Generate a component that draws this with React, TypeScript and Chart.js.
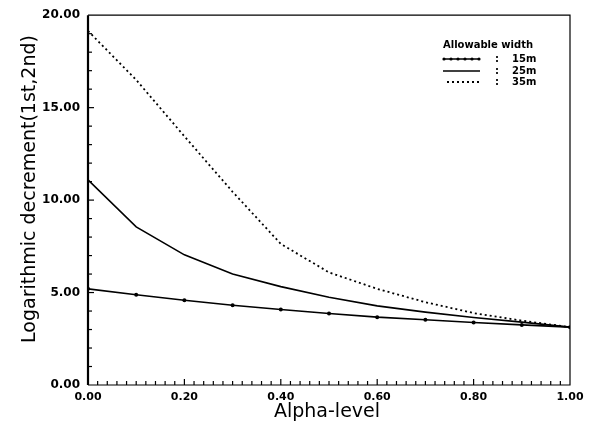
import React, { useEffect, useRef } from "react";
import { Chart, registerables } from "chart.js";

Chart.register(...registerables);

const alphaLevels = [0, 0.1, 0.2, 0.3, 0.4, 0.5, 0.6, 0.7, 0.8, 0.9, 1.0];
const width15 = [5.2, 4.88, 4.58, 4.31, 4.08, 3.87, 3.67, 3.53, 3.38, 3.25, 3.13];
const width25 = [11.1, 8.55, 7.04, 6.0, 5.32, 4.75, 4.28, 3.94, 3.65, 3.4, 3.13];
const width35 = [19.15, 16.5, 13.45, 10.45, 7.63, 6.09, 5.2, 4.48, 3.89, 3.48, 3.13];
const seriesLabels = ["15m", "25m", "35m"];
const legendTitle = "Allowable width";
const xTitle = "Alpha-level";
const yTitle = "Logarithmic decrement(1st,2nd)";
const xMin = 0;
const xMax = 1;
const xMajorStep = 0.2;
const xMinorStep = 0.02;
const yMin = 0;
const yMax = 20;
const yMajorStep = 5;
const yMinorStep = 1;

const toPoints = (ys: number[]) => alphaLevels.map((x, i) => ({ x, y: ys[i] }));

const decorPlugin = {
  id: "decor",
  afterDraw(chart: any) {
    const ctx = chart.ctx as CanvasRenderingContext2D;
    const area = chart.chartArea;
    const xs = chart.scales.x;
    const ys = chart.scales.y;
    ctx.save();
    ctx.strokeStyle = "#000";
    // frame
    ctx.lineWidth = 1.2;
    ctx.beginPath();
    ctx.moveTo(area.left, area.top);
    ctx.lineTo(area.right, area.top);
    ctx.lineTo(area.right, area.bottom);
    ctx.lineTo(area.left, area.bottom);
    ctx.stroke();
    ctx.lineWidth = 2.2;
    ctx.beginPath();
    ctx.moveTo(area.left, area.top);
    ctx.lineTo(area.left, area.bottom);
    ctx.stroke();
    // x minor/major ticks (inside, pointing up)
    ctx.lineWidth = 1.2;
    const nx = Math.round((xMax - xMin) / xMinorStep);
    for (let i = 1; i < nx; i++) {
      const v = xMin + i * xMinorStep;
      const px = xs.getPixelForValue(v);
      const major = i % Math.round(xMajorStep / xMinorStep) === 0;
      ctx.beginPath();
      ctx.moveTo(px, area.bottom);
      ctx.lineTo(px, area.bottom - (major ? 6 : 4));
      ctx.stroke();
    }
    // y ticks (inside, pointing right)
    const ny = Math.round((yMax - yMin) / yMinorStep);
    for (let i = 1; i < ny; i++) {
      const v = yMin + i * yMinorStep;
      const py = ys.getPixelForValue(v);
      const major = i % Math.round(yMajorStep / yMinorStep) === 0;
      ctx.beginPath();
      ctx.moveTo(area.left, py);
      ctx.lineTo(area.left + (major ? 6 : 4), py);
      ctx.stroke();
    }
    // axis titles
    ctx.fillStyle = "#000";
    ctx.font = "19px 'DejaVu Sans'";
    ctx.textAlign = "center";
    ctx.textBaseline = "middle";
    ctx.fillText(xTitle, (area.left + area.right) / 2 - 2, 412);
    ctx.save();
    ctx.translate(30, 189);
    ctx.rotate(-Math.PI / 2);
    ctx.fillText(yTitle, 0, 0);
    ctx.restore();
    // legend
    ctx.font = "bold 10px 'DejaVu Sans'";
    ctx.textAlign = "left";
    ctx.fillText(legendTitle, 443, 45);
    const rowY = [59, 71, 82];
    chart.data.datasets.forEach((ds: any, i: number) => {
      const y = rowY[i];
      ctx.save();
      ctx.strokeStyle = "#000";
      ctx.lineWidth = ds.borderWidth;
      ctx.setLineDash(ds.borderDash || []);
      ctx.beginPath();
      ctx.moveTo(i === 2 ? 447 : 443, y);
      ctx.lineTo(480, y);
      ctx.stroke();
      ctx.restore();
      if (ds.pointRadius > 0) {
        for (let k = 0; k < 6; k++) {
          ctx.beginPath();
          ctx.arc(444 + k * 7, y, 1.6, 0, Math.PI * 2);
          ctx.fill();
        }
      }
      ctx.fillText(":", 495, y);
      ctx.fillText(seriesLabels[i], 512, y);
    });
    ctx.restore();
  },
};

export default function App() {
  const ref = useRef<HTMLCanvasElement | null>(null);
  useEffect(() => {
    document.body.style.margin = "0";
    if (!ref.current) return;
    const chart = new Chart(ref.current, {
      type: "line",
      data: {
        datasets: [
          {
            label: seriesLabels[0],
            data: toPoints(width15),
            borderColor: "#000",
            backgroundColor: "#000",
            borderWidth: 1.6,
            pointRadius: 2,
            pointBackgroundColor: "#000",
            pointBorderWidth: 0,
            tension: 0,
          },
          {
            label: seriesLabels[1],
            data: toPoints(width25),
            borderColor: "#000",
            borderWidth: 1.6,
            pointRadius: 0,
            tension: 0,
          },
          {
            label: seriesLabels[2],
            data: toPoints(width35),
            borderColor: "#000",
            borderWidth: 1.8,
            borderDash: [2, 3],
            pointRadius: 0,
            tension: 0,
          },
        ],
      },
      options: {
        animation: false,
        responsive: false,
        maintainAspectRatio: false,
        layout: { padding: { left: 0, right: 25, top: 13, bottom: 0 } },
        plugins: {
          legend: { display: false },
          tooltip: { enabled: false },
          title: { display: false },
        },
        scales: {
          x: {
            type: "linear",
            min: xMin,
            max: xMax,
            grid: { display: false, drawTicks: false },
            border: { display: false },
            ticks: {
              stepSize: xMajorStep,
              padding: 6,
              color: "#000",
              font: { family: "'DejaVu Sans'", size: 11, weight: "bold" },
              maxRotation: 0,
              callback: (v: any) => Number(v).toFixed(2),
            },
            afterFit: (s: any) => {
              s.height = 42;
            },
          },
          y: {
            type: "linear",
            min: yMin,
            max: yMax,
            grid: { display: false, drawTicks: false },
            border: { display: false },
            ticks: {
              stepSize: yMajorStep,
              padding: 8,
              color: "#000",
              font: { family: "'DejaVu Sans'", size: 12, weight: "bold" },
              callback: (v: any) => Number(v).toFixed(2),
            },
            afterFit: (s: any) => {
              s.width = 88;
            },
          },
        },
      },
      plugins: [decorPlugin],
    });
    return () => chart.destroy();
  }, []);
  return (
    <div style={{ width: 595, height: 427, background: "#fff" }}>
      <canvas ref={ref} width={595} height={427} />
    </div>
  );
}
